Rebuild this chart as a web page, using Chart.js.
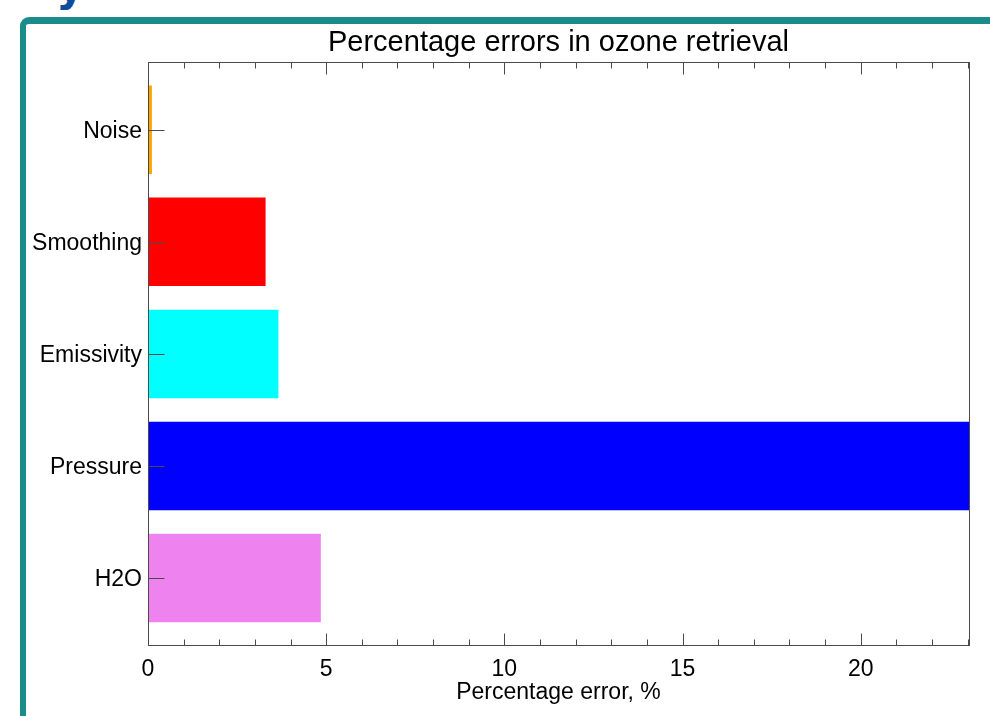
<!DOCTYPE html>
<html>
<head>
<meta charset="utf-8">
<script src="https://cdn.jsdelivr.net/npm/chart.js@4"></script>
<style>
html, body { margin: 0; padding: 0; background: #fff; }
#wrap { position: relative; width: 990px; height: 716px; overflow: hidden; }
#frame { position: absolute; left: 20px; top: 17px; width: 1100px; height: 900px;
         border-left: 6px solid #1a8c89; border-top: 7px solid #1a8c89; border-top-left-radius: 9px; }
#head { position: absolute; left: 0; top: 0; }
#chart { position: absolute; left: 0; top: 0; }
</style>
</head>
<body>
<div id="wrap">
  <svg id="head" width="990" height="20"><text x="56" y="1" font-family="DejaVu Sans" font-weight="bold" font-size="44" fill="#0b4d9b">y</text></svg>
  <div id="frame"></div>
  <canvas id="chart" width="990" height="716"></canvas>
</div>
<script>
const categories = ['Noise', 'Smoothing', 'Emissivity', 'Pressure', 'H2O'];
const errorValues = [0.11, 3.3, 3.66, 23.04, 4.85];
const barColours = ['#ffa500', '#ff0000', '#00ffff', '#0000ff', '#ee82ee'];
const xTickValues = [0, 5, 10, 15, 20];
const xMax = 23.04;

// box round the plot, with inward ticks like the original
const frameTicks = {
    id: 'frameTicks',
    afterDatasetsDraw(chart) {
        const {ctx, chartArea: a, scales: {x, y}} = chart;
        ctx.save();
        ctx.strokeStyle = '#4a4a4a';
        ctx.lineWidth = 1;
        const left = Math.round(a.left) + 0.5, top = Math.round(a.top) + 0.5;
        const right = Math.round(a.right) + 0.5, bottom = Math.round(a.bottom) - 0.5;
        ctx.strokeRect(left, top, right - left, bottom - top);
        ctx.beginPath();
        for (let v = 0; v <= xMax; v++) {
            const px = Math.round(x.getPixelForValue(v)) + 0.5;
            const len = xTickValues.includes(v) ? 12 : 6;
            ctx.moveTo(px, bottom); ctx.lineTo(px, bottom - len);
            ctx.moveTo(px, top); ctx.lineTo(px, top + len);
        }
        categories.forEach((c, i) => {
            const py = Math.round(y.getPixelForValue(i)) + 0.5;
            ctx.moveTo(left, py); ctx.lineTo(left + 16, py);
        });
        ctx.stroke();
        ctx.restore();
    }
};

Chart.defaults.font.family = '"Liberation Sans", Arial, sans-serif';
Chart.defaults.color = '#000';

new Chart(document.getElementById('chart'), {
    type: 'bar',
    data: {
        datasets: [{
            data: categories.map((c, i) => ({x: errorValues[i], y: i})),
            backgroundColor: barColours,
            borderWidth: 0,
            barPercentage: 0.79,
            categoryPercentage: 1
        }]
    },
    options: {
        indexAxis: 'y',
        responsive: false,
        animation: false,
        layout: {padding: {top: 0, right: 21, bottom: 0, left: 0}},
        plugins: {
            legend: {display: false},
            tooltip: {enabled: false},
            title: {
                display: true,
                text: 'Percentage errors in ozone retrieval',
                fullSize: false,
                font: {size: 29, weight: 'normal'},
                color: '#000',
                padding: {top: 26, bottom: 1}
            }
        },
        scales: {
            x: {
                type: 'linear',
                min: 0,
                max: xMax,
                grid: {display: false, drawTicks: false},
                border: {display: false},
                ticks: {
                    stepSize: 5,
                    includeBounds: false,
                    padding: 10,
                    font: {size: 23},
                    color: '#000'
                },
                title: {
                    display: true,
                    text: 'Percentage error, %',
                    font: {size: 23},
                    color: '#000',
                    padding: {top: 0, bottom: 10}
                },
                afterFit(scale) { scale.height = 70; }
            },
            y: {
                type: 'linear',
                min: -0.607,
                max: 4.607,
                offset: false,
                reverse: true,
                grid: {display: false, drawTicks: false, offset: false},
                border: {display: false},
                ticks: {
                    autoSkip: false,
                    padding: 6,
                    labelOffset: 2,
                    font: {size: 23},
                    color: '#000',
                    callback: v => categories[v] ?? ''
                },
                afterBuildTicks(scale) { scale.ticks = categories.map((c, i) => ({value: i})); },
                afterFit(scale) { scale.width = 148; }
            }
        }
    },
    plugins: [frameTicks]
});
</script>
</body>
</html>
